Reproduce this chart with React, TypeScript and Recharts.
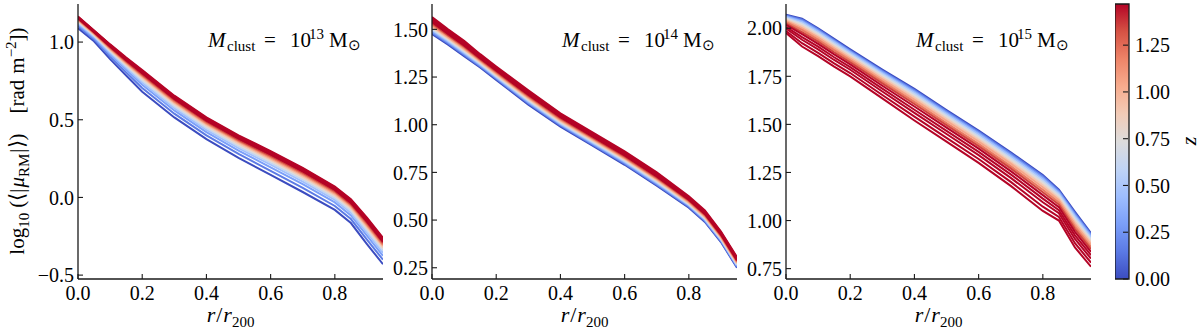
import React from 'react';
import { LineChart, Line, XAxis, YAxis, ReferenceArea } from 'recharts';

const FONT = "'Liberation Serif', 'Times New Roman', serif";
const FS = 20;
const SUB = 14;
const INK = '#1a1a1a';

// radius grid r / r200
const R = [0, 0.05, 0.1, 0.15, 0.2, 0.3, 0.4, 0.5, 0.6, 0.7, 0.8, 0.85, 0.9, 0.95];
// redshift of each profile (colours saturate above the colour-bar maximum)
const Z = [0, 0.15, 0.3, 0.45, 0.6, 0.75, 0.9, 1.05, 1.2, 1.35, 1.47, 1.6, 1.8, 2.0, 2.2];
const Z_MAX = 1.47;

// log10 <|mu_RM|>, M = 1e13 Msun (one row per redshift)
const M13 = [
  [1.09, 1.005, 0.89, 0.785, 0.68, 0.515, 0.375, 0.255, 0.145, 0.035, -0.08, -0.165, -0.3, -0.43],
  [1.103, 1.017, 0.906, 0.805, 0.704, 0.539, 0.399, 0.28, 0.171, 0.061, -0.055, -0.139, -0.271, -0.401],
  [1.114, 1.027, 0.92, 0.822, 0.725, 0.56, 0.42, 0.301, 0.194, 0.085, -0.032, -0.116, -0.246, -0.376],
  [1.122, 1.035, 0.931, 0.835, 0.74, 0.575, 0.435, 0.317, 0.211, 0.102, -0.016, -0.099, -0.227, -0.357],
  [1.128, 1.041, 0.939, 0.844, 0.751, 0.586, 0.446, 0.329, 0.223, 0.114, -0.004, -0.087, -0.213, -0.343],
  [1.134, 1.046, 0.945, 0.852, 0.761, 0.596, 0.456, 0.339, 0.234, 0.125, 0.007, -0.076, -0.201, -0.331],
  [1.138, 1.05, 0.951, 0.859, 0.77, 0.605, 0.465, 0.348, 0.243, 0.134, 0.016, -0.067, -0.191, -0.321],
  [1.143, 1.054, 0.957, 0.866, 0.778, 0.613, 0.473, 0.357, 0.252, 0.144, 0.025, -0.058, -0.181, -0.311],
  [1.146, 1.058, 0.961, 0.871, 0.785, 0.62, 0.48, 0.364, 0.26, 0.151, 0.033, -0.05, -0.173, -0.303],
  [1.15, 1.061, 0.966, 0.877, 0.792, 0.627, 0.487, 0.371, 0.267, 0.159, 0.04, -0.043, -0.164, -0.294],
  [1.154, 1.065, 0.971, 0.883, 0.799, 0.634, 0.494, 0.378, 0.275, 0.167, 0.048, -0.035, -0.156, -0.286],
  [1.157, 1.067, 0.975, 0.887, 0.805, 0.64, 0.5, 0.384, 0.281, 0.173, 0.054, -0.029, -0.149, -0.279],
  [1.16, 1.07, 0.978, 0.892, 0.81, 0.645, 0.505, 0.39, 0.287, 0.179, 0.06, -0.023, -0.142, -0.272],
  [1.162, 1.073, 0.982, 0.896, 0.815, 0.65, 0.51, 0.395, 0.293, 0.185, 0.065, -0.017, -0.136, -0.266],
  [1.165, 1.075, 0.985, 0.9, 0.82, 0.655, 0.515, 0.4, 0.298, 0.19, 0.07, -0.012, -0.13, -0.26],
];

// M = 1e14 Msun
const M14 = [
  [1.475, 1.42, 1.36, 1.3, 1.235, 1.105, 0.99, 0.89, 0.79, 0.68, 0.565, 0.49, 0.385, 0.25],
  [1.482, 1.426, 1.366, 1.306, 1.241, 1.111, 0.996, 0.896, 0.796, 0.686, 0.57, 0.495, 0.389, 0.254],
  [1.489, 1.433, 1.373, 1.311, 1.246, 1.117, 1.001, 0.901, 0.801, 0.691, 0.575, 0.5, 0.394, 0.259],
  [1.496, 1.438, 1.378, 1.316, 1.251, 1.122, 1.006, 0.906, 0.806, 0.696, 0.579, 0.504, 0.398, 0.263],
  [1.501, 1.443, 1.383, 1.32, 1.255, 1.127, 1.01, 0.91, 0.81, 0.7, 0.582, 0.507, 0.401, 0.266],
  [1.507, 1.448, 1.388, 1.325, 1.26, 1.131, 1.015, 0.915, 0.815, 0.705, 0.586, 0.511, 0.404, 0.269],
  [1.513, 1.454, 1.394, 1.329, 1.264, 1.137, 1.019, 0.919, 0.819, 0.709, 0.59, 0.515, 0.408, 0.273],
  [1.519, 1.459, 1.399, 1.334, 1.269, 1.142, 1.024, 0.924, 0.824, 0.714, 0.594, 0.519, 0.412, 0.277],
  [1.525, 1.465, 1.405, 1.339, 1.274, 1.147, 1.029, 0.929, 0.829, 0.719, 0.599, 0.524, 0.416, 0.281],
  [1.532, 1.47, 1.41, 1.344, 1.279, 1.152, 1.034, 0.934, 0.834, 0.724, 0.603, 0.528, 0.42, 0.285],
  [1.538, 1.476, 1.416, 1.349, 1.284, 1.158, 1.039, 0.939, 0.839, 0.729, 0.607, 0.532, 0.424, 0.289],
  [1.544, 1.482, 1.422, 1.354, 1.289, 1.163, 1.044, 0.944, 0.844, 0.734, 0.611, 0.536, 0.427, 0.292],
  [1.552, 1.488, 1.428, 1.36, 1.295, 1.169, 1.05, 0.95, 0.85, 0.74, 0.616, 0.541, 0.432, 0.297],
  [1.558, 1.494, 1.434, 1.364, 1.299, 1.174, 1.054, 0.954, 0.854, 0.744, 0.62, 0.545, 0.436, 0.301],
  [1.565, 1.5, 1.44, 1.37, 1.305, 1.18, 1.06, 0.96, 0.86, 0.75, 0.625, 0.55, 0.44, 0.305],
];

// M = 1e15 Msun
const M15 = [
  [2.07, 2.05, 2.0, 1.945, 1.89, 1.785, 1.685, 1.575, 1.468, 1.355, 1.237, 1.16, 1.045, 0.935],
  [2.066, 2.044, 1.994, 1.939, 1.884, 1.779, 1.678, 1.568, 1.461, 1.348, 1.23, 1.154, 1.038, 0.928],
  [2.062, 2.038, 1.988, 1.933, 1.879, 1.773, 1.672, 1.562, 1.455, 1.341, 1.222, 1.147, 1.03, 0.921],
  [2.059, 2.033, 1.983, 1.928, 1.873, 1.767, 1.665, 1.555, 1.448, 1.334, 1.215, 1.141, 1.023, 0.914],
  [2.054, 2.025, 1.975, 1.92, 1.866, 1.76, 1.657, 1.547, 1.439, 1.325, 1.205, 1.133, 1.014, 0.905],
  [2.049, 2.018, 1.968, 1.913, 1.859, 1.752, 1.649, 1.539, 1.431, 1.317, 1.196, 1.125, 1.004, 0.897],
  [2.043, 2.009, 1.959, 1.904, 1.851, 1.743, 1.639, 1.529, 1.421, 1.306, 1.185, 1.115, 0.993, 0.886],
  [2.038, 2.001, 1.951, 1.896, 1.842, 1.734, 1.629, 1.519, 1.411, 1.296, 1.173, 1.106, 0.982, 0.876],
  [2.031, 1.991, 1.941, 1.886, 1.833, 1.724, 1.617, 1.507, 1.399, 1.283, 1.16, 1.094, 0.969, 0.863],
  [2.024, 1.98, 1.93, 1.875, 1.823, 1.713, 1.606, 1.496, 1.387, 1.271, 1.147, 1.083, 0.956, 0.851],
  [2.017, 1.969, 1.919, 1.864, 1.812, 1.701, 1.593, 1.483, 1.374, 1.257, 1.132, 1.07, 0.941, 0.837],
  [2.007, 1.954, 1.904, 1.849, 1.798, 1.686, 1.576, 1.466, 1.357, 1.24, 1.114, 1.054, 0.923, 0.82],
  [1.998, 1.94, 1.89, 1.835, 1.784, 1.671, 1.56, 1.45, 1.34, 1.222, 1.095, 1.038, 0.904, 0.802],
  [1.986, 1.922, 1.872, 1.817, 1.767, 1.653, 1.54, 1.43, 1.32, 1.201, 1.072, 1.019, 0.882, 0.781],
  [1.975, 1.905, 1.855, 1.8, 1.75, 1.635, 1.52, 1.41, 1.3, 1.18, 1.05, 1.0, 0.86, 0.76],
];

const X_TICKS = [0, 0.2, 0.4, 0.6, 0.8];
const Y_TICKS_13 = [-0.5, 0, 0.5, 1.0];
const Y_TICKS_14 = [0.25, 0.5, 0.75, 1.0, 1.25, 1.5];
const Y_TICKS_15 = [0.75, 1.0, 1.25, 1.5, 1.75, 2.0];
const CB_TICKS = [0, 0.25, 0.5, 0.75, 1.0, 1.25];
const MASS_EXP = ['13', '14', '15'];

const COOLWARM = ['#3b4cc0', '#5b7ae5', '#7b9ff9', '#9ebeff', '#c0d4f5', '#dddcdc', '#f2cbb7', '#f7ac8e', '#ee8468', '#d65244', '#b40426'];

function hexRgb(h: string) {
  return [parseInt(h.slice(1, 3), 16), parseInt(h.slice(3, 5), 16), parseInt(h.slice(5, 7), 16)];
}
function coolwarm(t: number) {
  const c = Math.max(0, Math.min(1, t)) * (COOLWARM.length - 1);
  const i = Math.min(Math.floor(c), COOLWARM.length - 2);
  const f = c - i;
  const a = hexRgb(COOLWARM[i]);
  const b = hexRgb(COOLWARM[i + 1]);
  const m = a.map((v, k) => Math.round(v + (b[k] - v) * f));
  return `rgb(${m[0]},${m[1]},${m[2]})`;
}
function fmt(v: number, d: number) {
  const s = Math.abs(v).toFixed(d);
  return v < -1e-9 ? '\u2212' + s : s;
}

const PLOT_W = 305;
const PLOT_TOP = 4;
const PLOT_BOTTOM = 279;
const PAD_L = 60;
const PAD_R = 20;
const TL = 5;
const AX = { stroke: INK, strokeWidth: 1.3 };

const makeLeftTick = (dec: number) => (p: any) => (
  <g>
    <line x1={p.x} x2={p.x + TL} y1={p.y} y2={p.y} stroke={INK} strokeWidth={1.1} />
    <text x={p.x - 4} y={p.y} dy="0.36em" textAnchor="end" fontFamily={FONT} fontSize={FS} fill="#000">
      {fmt(p.payload.value, dec)}
    </text>
  </g>
);
const RightTick = (p: any) => (
  <line x1={p.x - TL} x2={p.x} y1={p.y} y2={p.y} stroke={INK} strokeWidth={1.1} />
);
const TopTick = (p: any) => (
  <line x1={p.x} x2={p.x} y1={p.y} y2={p.y + TL} stroke={INK} strokeWidth={1.1} />
);
const BottomTick = (p: any) => (
  <g>
    <line x1={p.x} x2={p.x} y1={p.y - TL} y2={p.y} stroke={INK} strokeWidth={1.1} />
    <text x={p.x} y={p.y + 21} textAnchor="middle" fontFamily={FONT} fontSize={FS} fill="#000">
      {fmt(p.payload.value, 1)}
    </text>
  </g>
);
const CbTick = (p: any) => (
  <g>
    <line x1={p.x - 6} x2={p.x - 1} y1={p.y} y2={p.y} stroke={INK} strokeWidth={1.1} />
    <text x={p.x + 6} y={p.y} dy="0.36em" textAnchor="start" fontFamily={FONT} fontSize={FS} fill="#000">
      {p.payload.value.toFixed(2)}
    </text>
  </g>
);

function Panel({ left, rows, domain, yTicks, dec }: any) {
  const data = R.map((r, i) => {
    const o: any = { r };
    rows.forEach((row: number[], k: number) => {
      o['l' + k] = row[i];
    });
    return o;
  });
  return (
    <div style={{ position: 'absolute', left: left - PAD_L, top: 0 }}>
      <LineChart
        width={PLOT_W + PAD_L + PAD_R}
        height={333}
        data={data}
        margin={{ top: PLOT_TOP, right: PAD_R, bottom: 0, left: 0 }}
      >
        <XAxis xAxisId="b" dataKey="r" type="number" domain={[0, 0.95]} ticks={X_TICKS} allowDataOverflow
          height={333 - PLOT_BOTTOM} tickLine={false} tickSize={0} tickMargin={0} interval={0} axisLine={AX} tick={BottomTick} />
        <XAxis xAxisId="t" orientation="top" dataKey="r" type="number" domain={[0, 0.95]} ticks={X_TICKS} allowDataOverflow
          height={0} tickLine={false} tickSize={0} tickMargin={0} interval={0} axisLine={AX} tick={TopTick} />
        <YAxis yAxisId="l" type="number" domain={domain} ticks={yTicks} allowDataOverflow width={PAD_L}
          tickLine={false} tickSize={0} tickMargin={0} interval={0} axisLine={AX} tick={makeLeftTick(dec)} />
        <YAxis yAxisId="r" orientation="right" type="number" domain={domain} ticks={yTicks} allowDataOverflow width={0}
          tickLine={false} tickSize={0} tickMargin={0} interval={0} axisLine={AX} tick={RightTick} />
        {rows.map((_: any, k: number) => (
          <Line key={k} xAxisId="b" yAxisId="l" dataKey={'l' + k} type="linear" stroke={coolwarm(Z[k] / Z_MAX)}
            strokeWidth={2} dot={false} activeDot={false} isAnimationActive={false} />
        ))}
      </LineChart>
    </div>
  );
}

const CB_DATA = [{ x: 0 }, { x: 1 }];

function ColorBar() {
  return (
    <div style={{ position: 'absolute', left: 1115, top: 0 }}>
      <LineChart width={14 + 70} height={333} data={CB_DATA} margin={{ top: PLOT_TOP, right: 0, bottom: 333 - PLOT_BOTTOM, left: 0 }}>
        <defs>
          <linearGradient id="cwgrad" x1="0" y1="1" x2="0" y2="0">
            {COOLWARM.map((c, i) => (
              <stop key={i} offset={i / (COOLWARM.length - 1)} stopColor={c} />
            ))}
          </linearGradient>
        </defs>
        <XAxis xAxisId="c" dataKey="x" type="number" domain={[0, 1]} hide />
        <YAxis yAxisId="c" orientation="right" type="number" domain={[0, Z_MAX]} ticks={CB_TICKS} allowDataOverflow width={70}
          tickSize={0} tickMargin={0} interval={0} axisLine={false} tickLine={false} tick={CbTick} />
        <ReferenceArea xAxisId="c" yAxisId="c" x1={0} x2={1} y1={0} y2={Z_MAX} fill="url(#cwgrad)" fillOpacity={1}
          stroke={INK} strokeWidth={1.3} ifOverflow="visible" />
      </LineChart>
    </div>
  );
}

const PANELS = [
  { left: 78, rows: M13, domain: [-0.525, 1.245], yTicks: Y_TICKS_13, dec: 1 },
  { left: 432, rows: M14, domain: [0.191, 1.633], yTicks: Y_TICKS_14, dec: 2 },
  { left: 786, rows: M15, domain: [0.696, 2.126], yTicks: Y_TICKS_15, dec: 2 },
];

function Labels() {
  return (
    <svg width={1200} height={333} style={{ position: 'absolute', left: 0, top: 0, pointerEvents: 'none' }}
      fontFamily={FONT} fill="#000">
      <text transform="translate(24,141) rotate(-90)" textAnchor="middle" fontSize={21}>
        <tspan>log</tspan>
        <tspan fontSize={15} dy={5}>10</tspan>
        <tspan dy={-5} dx={5}>(⟨|</tspan>
        <tspan fontStyle="italic" dx={1}>μ</tspan>
        <tspan fontSize={15} dy={5}>RM</tspan>
        <tspan dy={-5} dx={1}>|⟩)</tspan>
        <tspan dx={20}>[rad</tspan>
        <tspan dx={6}>m</tspan>
        <tspan fontSize={15} dy={-8}>−2</tspan>
        <tspan dy={8}>])</tspan>
      </text>
      {PANELS.map((p, i) => {
        const b = p.left + 130;
        return (
          <g key={i}>
            <text x={p.left + PLOT_W / 2} y={322} textAnchor="middle" fontSize={22}>
              <tspan fontStyle="italic">r</tspan>
              <tspan dx={1}>/</tspan>
              <tspan fontStyle="italic" dx={1}>r</tspan>
              <tspan fontSize={15} dy={5}>200</tspan>
            </text>
            <text y={47} fontSize={21}>
              <tspan x={b} fontStyle="italic">M</tspan>
              <tspan x={b + 19} fontSize={15} dy={4}>clust</tspan>
              <tspan x={b + 56} dy={-4}>=</tspan>
              <tspan x={b + 82}>10</tspan>
              <tspan x={b + 101} fontSize={15} dy={-8}>{MASS_EXP[i]}</tspan>
              <tspan x={b + 121} dy={8}>M</tspan>
              <tspan x={b + 140} fontSize={15} dy={3}>⊙</tspan>
            </text>
          </g>
        );
      })}
      <text transform="translate(1196,141) rotate(-90)" textAnchor="middle" fontStyle="italic" fontSize={22}>z</text>
    </svg>
  );
}

export default function App() {
  return (
    <div style={{ position: 'absolute', left: 0, top: 0, width: 1200, height: 333, background: '#fff', overflow: 'hidden' }}>
      {PANELS.map((p, i) => (
        <Panel key={i} {...p} />
      ))}
      <ColorBar />
      <Labels />
    </div>
  );
}
